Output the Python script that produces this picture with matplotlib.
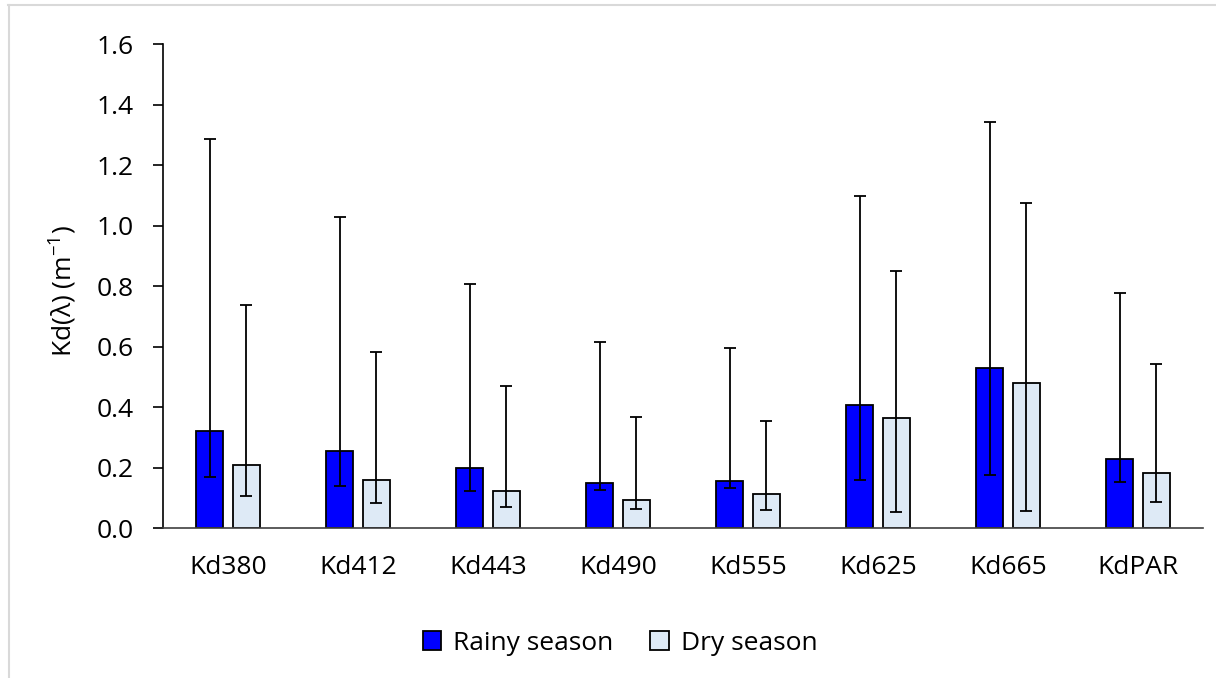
import numpy as np
import matplotlib.pyplot as plt
from matplotlib.lines import Line2D

# values
categories = ['Kd380', 'Kd412', 'Kd443', 'Kd490', 'Kd555', 'Kd625', 'Kd665', 'KdPAR']

rainy_mean = [0.323, 0.256, 0.199, 0.149, 0.155, 0.408, 0.530, 0.229]
rainy_low = [0.171, 0.141, 0.124, 0.127, 0.134, 0.159, 0.175, 0.152]
rainy_high = [1.288, 1.030, 0.808, 0.616, 0.595, 1.098, 1.342, 0.779]

dry_mean = [0.209, 0.160, 0.122, 0.093, 0.112, 0.364, 0.480, 0.182]
dry_low = [0.108, 0.084, 0.070, 0.065, 0.060, 0.055, 0.056, 0.088]
dry_high = [0.737, 0.583, 0.470, 0.369, 0.356, 0.851, 1.076, 0.543]

yticks = [0.0, 0.2, 0.4, 0.6, 0.8, 1.0, 1.2, 1.4, 1.6]

plt.rcParams['font.family'] = ['Open Sans', 'DejaVu Sans']
plt.rcParams['mathtext.fontset'] = 'custom'
plt.rcParams['mathtext.rm'] = 'Open Sans'

W, H = 1216, 678
fs = 19
fig = plt.figure(figsize=(W / 100, H / 100), dpi=100)
ax = fig.add_axes([163 / W, 1 - 528.3 / H, (1203 - 163) / W, (528.3 - 44.3) / H])

x = np.arange(len(categories))
width = 0.21
off = 0.142

rm = np.array(rainy_mean)
dm = np.array(dry_mean)
r_err = [rm - np.array(rainy_low), np.array(rainy_high) - rm]
d_err = [dm - np.array(dry_low), np.array(dry_high) - dm]

ax.bar(x - off, rm, width, color='#0000FF', edgecolor='black', linewidth=1.3,
       label='Rainy season', zorder=2)
ax.bar(x + off, dm, width, color='#DEEAF6', edgecolor='black', linewidth=1.3,
       label='Dry season', zorder=2)
ax.errorbar(x - off, rm, yerr=r_err, fmt='none', ecolor='black', elinewidth=1.3,
            capsize=4.3, capthick=1.3, zorder=3)
ax.errorbar(x + off, dm, yerr=d_err, fmt='none', ecolor='black', elinewidth=1.3,
            capsize=4.3, capthick=1.3, zorder=3)

ax.set_xlim(-0.5, len(categories) - 0.5)
ax.set_ylim(0, 1.6)
ax.set_yticks(yticks)
ax.set_yticklabels([f'{v:.1f}' for v in yticks])
ax.set_xticks(x)
ax.set_xticklabels(categories)
ax.tick_params(axis='y', length=7.2, width=1.2, labelsize=fs, pad=14, color='black')
ax.tick_params(axis='x', length=0, labelsize=fs, pad=19)
for s in ['top', 'right']:
    ax.spines[s].set_visible(False)
ax.spines['left'].set_linewidth(1.2)
ax.spines['bottom'].set_linewidth(1.2)
ax.spines['bottom'].set_color('#404040')

fig.text(62 / W, 1 - 291 / H, 'Kd(λ) (m$^{-1}$)', rotation=90, fontsize=fs,
         ha='center', va='center')

fig.legend(loc='center', bbox_to_anchor=(620 / W, 1 - 643 / H), ncol=2, frameon=False,
           fontsize=fs, handlelength=0.7, handleheight=0.7, handletextpad=0.45,
           columnspacing=1.4)

# page frame of the original document crop
fig.add_artist(Line2D([8 / W, 1], [1 - 5 / H, 1 - 5 / H], color='#d9d9d9', lw=1.5))
fig.add_artist(Line2D([9 / W, 9 / W], [0, 1 - 5 / H], color='#d9d9d9', lw=1.5))

fig.savefig('out.png', dpi=100)
